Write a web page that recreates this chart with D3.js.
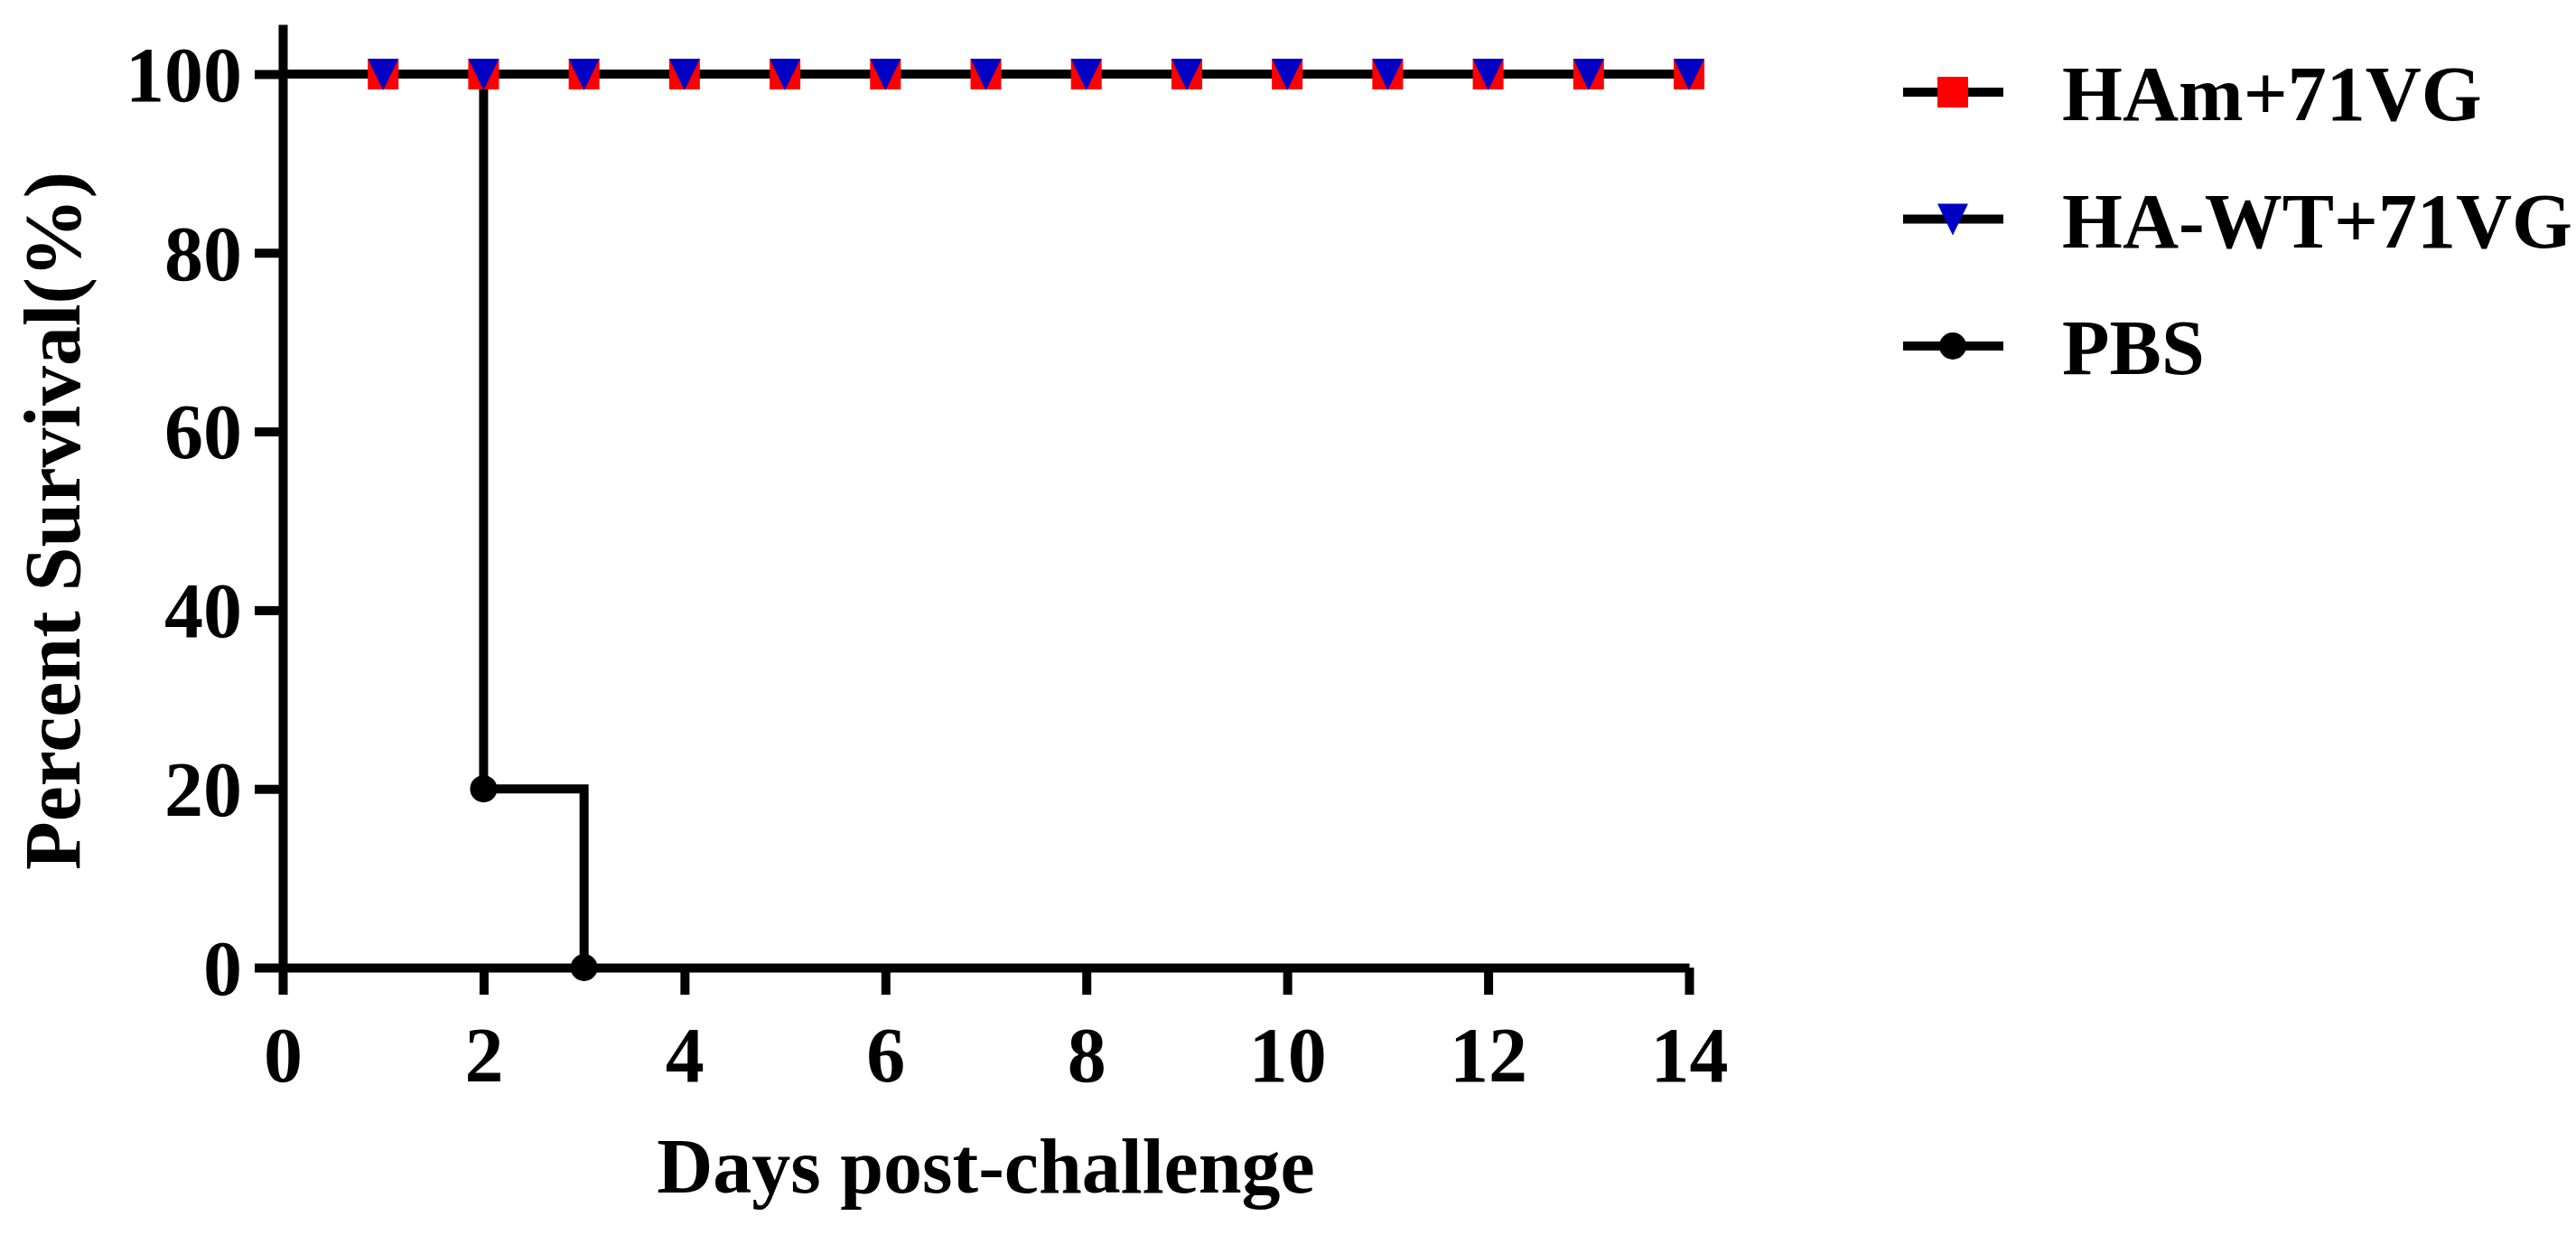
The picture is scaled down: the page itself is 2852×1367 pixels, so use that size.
<!DOCTYPE html>
<html>
<head>
<meta charset="utf-8">
<script src="https://cdn.jsdelivr.net/npm/d3@7"></script>
<style>
  html, body { margin: 0; padding: 0; background: #fff; }
  svg text { font-family: "Liberation Serif", "Tinos", "Times New Roman", "DejaVu Serif Condensed", "DejaVu Serif", serif; font-weight: bold; fill: #000; }
</style>
</head>
<body>
<div id="chart"></div>
<script>
/* Kaplan-Meier style survival plot: three groups, step lines, Prism-like axes. */
var seriesNames = ["HAm+71VG", "HA-WT+71VG", "PBS"];
var hamDays = [0, 1, 2, 3, 4, 5, 6, 7, 8, 9, 10, 11, 12, 13, 14];
var hamSurvival = [100, 100, 100, 100, 100, 100, 100, 100, 100, 100, 100, 100, 100, 100, 100];
var hawtDays = [0, 1, 2, 3, 4, 5, 6, 7, 8, 9, 10, 11, 12, 13, 14];
var hawtSurvival = [100, 100, 100, 100, 100, 100, 100, 100, 100, 100, 100, 100, 100, 100, 100];
var pbsDays = [0, 1, 2, 3];
var pbsSurvival = [100, 100, 20, 0];
var xTicks = [0, 2, 4, 6, 8, 10, 12, 14];
var yTicks = [0, 20, 40, 60, 80, 100];

(function () {
  var W = 2852, H = 1367;
  var svg = d3.select("#chart").append("svg")
    .attr("width", W).attr("height", H)
    .attr("viewBox", "0 0 " + W + " " + H);
  svg.append("rect").attr("width", W).attr("height", H).attr("fill", "#fff");

  var x = d3.scaleLinear().domain([0, 14]).range([313, 1870]);
  var y = d3.scaleLinear().domain([0, 105.56]).range([1071, 27]);

  function pts(days, vals) {
    return days.map(function (d, i) { return { d: d, v: vals[i] }; });
  }
  var groups = [
    { name: seriesNames[2], data: pts(pbsDays, pbsSurvival), shape: "circle", fill: "#000" },
    { name: seriesNames[0], data: pts(hamDays, hamSurvival), shape: "square", fill: "#ff0000" },
    { name: seriesNames[1], data: pts(hawtDays, hawtSurvival), shape: "triangle", fill: "#0000c4" }
  ];

  var line = d3.line().curve(d3.curveStepAfter)
    .x(function (p) { return x(p.d); })
    .y(function (p) { return y(p.v); });

  // axes
  var xAxis = svg.append("g").attr("transform", "translate(0," + y(0) + ")")
    .call(d3.axisBottom(x).tickValues(xTicks).tickSize(30).tickSizeOuter(0));
  var yAxis = svg.append("g").attr("transform", "translate(" + x(0) + ",0)")
    .call(d3.axisLeft(y).tickValues(yTicks).tickSize(31).tickSizeOuter(0));
  [xAxis, yAxis].forEach(function (a) {
    a.attr("font-family", null);
    a.select(".domain").attr("stroke", "#000").attr("stroke-width", 10);
    a.selectAll(".tick line").attr("stroke", "#000").attr("stroke-width", 10);
    a.selectAll(".tick text").attr("font-size", 86).attr("fill", "#000");
  });
  xAxis.selectAll(".tick text").attr("y", 126).attr("dy", null);
  yAxis.selectAll(".tick text").attr("x", -45).attr("dy", "0.34em");

  // curves
  groups.forEach(function (g) {
    svg.append("path").datum(g.data)
      .attr("d", line).attr("fill", "none")
      .attr("stroke", "#000").attr("stroke-width", 10)
      .attr("stroke-linejoin", "miter");
  });

  function marker(sel, shape, fill) {
    if (shape === "square") {
      sel.append("rect").attr("x", -17).attr("y", -17).attr("width", 34).attr("height", 34).attr("fill", fill);
    } else if (shape === "triangle") {
      sel.append("path").attr("d", "M-17,-17L17,-17L0,18Z").attr("fill", fill);
    } else {
      sel.append("circle").attr("r", 15).attr("fill", fill);
    }
  }

  groups.forEach(function (g) {
    svg.append("g").selectAll("g").data(g.data.filter(function (p) { return p.d > 0; }))
      .join("g")
      .attr("transform", function (p) { return "translate(" + x(p.d) + "," + y(p.v) + ")"; })
      .each(function () { marker(d3.select(this), g.shape, g.fill); });
  });

  // titles
  svg.append("text").attr("x", (x(0) + x(14)) / 2).attr("y", 1320)
    .attr("text-anchor", "middle").attr("font-size", 86).text("Days post-challenge");
  svg.append("text")
    .attr("transform", "translate(88," + (y(0) + y(100)) / 2 + ") rotate(-90)")
    .attr("text-anchor", "middle").attr("font-size", 88).text("Percent Survival(%)");

  // legend
  var legendOrder = [groups[1], groups[2], groups[0]];
  var lg = svg.append("g").selectAll("g").data(legendOrder).join("g")
    .attr("transform", function (g, i) { return "translate(2107," + (102 + i * 140.5) + ")"; });
  lg.append("line").attr("x1", 0).attr("x2", 111).attr("stroke", "#000").attr("stroke-width", 10);
  lg.append("g").attr("transform", "translate(55,0)")
    .each(function (g) { marker(d3.select(this), g.shape, g.fill); });
  lg.append("text").attr("x", 176).attr("y", 31).attr("font-size", 86)
    .text(function (g) { return g.name; });
})();
</script>
</body>
</html>
